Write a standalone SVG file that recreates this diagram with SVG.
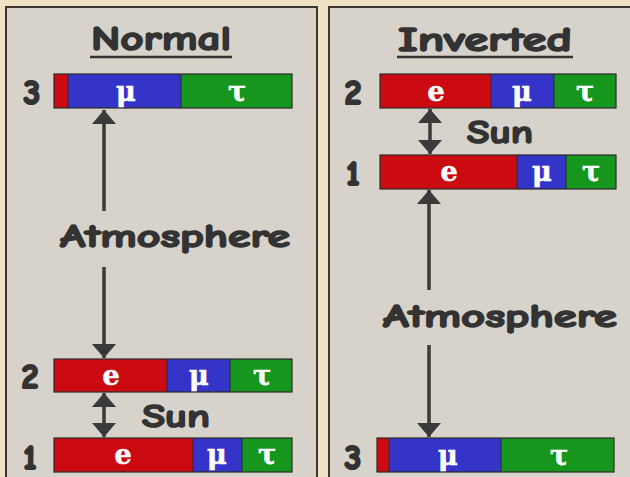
<svg xmlns="http://www.w3.org/2000/svg" width="630" height="477" viewBox="0 0 630 477">
  <defs>
    <style>
      .panel { fill: #d7d3cb; stroke: #3a3630; stroke-width: 2; }
      .t { font-family: "Comic Sans MS", "Comic Neue", "DejaVu Sans", sans-serif; font-weight: bold; fill: #333333; stroke: #333333; stroke-width: 1.6; stroke-linejoin: round; }
      .title { font-size: 34px; text-anchor: middle; }
      .lbl { font-size: 32px; text-anchor: middle; }
      .num { font-size: 34px; text-anchor: middle; stroke-width: 2.2; }
      .bt { font-family: "DejaVu Serif", "Liberation Serif", serif; font-weight: bold; font-size: 27px; fill: #ffffff; stroke: #ffffff; stroke-width: 0.6; text-anchor: middle; }
      .r { fill: #cc0a12; }
      .b { fill: #3434c8; }
      .g { fill: #16961c; }
      .frame { fill: none; stroke: #2a2a2a; stroke-width: 1.2; }
      .sep { stroke: #2a2a2a; stroke-width: 1; }
      .ln { stroke: #3a3a3a; stroke-width: 3.5; fill: none; }
      .ul { stroke: #333333; stroke-width: 2.6; }
    </style>
    <marker id="ah" viewBox="0 0 14 24" refX="14" refY="12" markerWidth="14" markerHeight="24" markerUnits="userSpaceOnUse" orient="auto">
      <path d="M0,0 L14,12 L0,24 Z" fill="#3a3a3a"/>
    </marker>
  </defs>
  <rect x="0" y="0" width="630" height="477" fill="#efe2c4"/>

  <g id="panel-normal">
    <rect class="panel" x="6" y="7" width="311" height="480"/>
    <text class="t title" x="161" y="50" textLength="140" lengthAdjust="spacingAndGlyphs">Normal</text>
    <line class="ul" x1="90" y1="57" x2="232" y2="57"/>
  </g>
  <g id="panel-inverted">
    <rect class="panel" x="329" y="7" width="320" height="480"/>
    <text class="t title" x="485" y="51" textLength="174" lengthAdjust="spacingAndGlyphs">Inverted</text>
    <line class="ul" x1="397" y1="57" x2="573" y2="57"/>
  </g>

  <g id="normal-3">
    <text class="t num" x="32" y="104">3</text>
    <rect class="r" x="54" y="74" width="14" height="34"/>
    <rect class="b" x="68" y="74" width="113" height="34"/>
    <rect class="g" x="181" y="74" width="111" height="34"/>
    <line class="sep" x1="68" y1="74" x2="68" y2="108"/>
    <line class="sep" x1="181" y1="74" x2="181" y2="108"/>
    <rect class="frame" x="54" y="74" width="238" height="34"/>
    <text class="bt" x="126" y="101">μ</text>
    <text class="bt" x="237" y="101">τ</text>
  </g>

  <g id="normal-2">
    <text class="t num" x="30" y="388">2</text>
    <rect class="r" x="54" y="359" width="113" height="33"/>
    <rect class="b" x="167" y="359" width="63" height="33"/>
    <rect class="g" x="230" y="359" width="62" height="33"/>
    <line class="sep" x1="167" y1="359" x2="167" y2="392"/>
    <line class="sep" x1="230" y1="359" x2="230" y2="392"/>
    <rect class="frame" x="54" y="359" width="238" height="33"/>
    <text class="bt" x="111" y="385">e</text>
    <text class="bt" x="199" y="385">μ</text>
    <text class="bt" x="262" y="385">τ</text>
  </g>

  <g id="normal-1">
    <text class="t num" x="30" y="469">1</text>
    <rect class="r" x="54" y="438" width="139" height="34"/>
    <rect class="b" x="193" y="438" width="49" height="34"/>
    <rect class="g" x="242" y="438" width="50" height="34"/>
    <line class="sep" x1="193" y1="438" x2="193" y2="472"/>
    <line class="sep" x1="242" y1="438" x2="242" y2="472"/>
    <rect class="frame" x="54" y="438" width="238" height="34"/>
    <text class="bt" x="123" y="464">e</text>
    <text class="bt" x="217" y="464">μ</text>
    <text class="bt" x="267" y="464">τ</text>
  </g>

  <g id="inverted-2">
    <text class="t num" x="353" y="104">2</text>
    <rect class="r" x="380" y="74" width="111" height="34"/>
    <rect class="b" x="491" y="74" width="63" height="34"/>
    <rect class="g" x="554" y="74" width="62" height="34"/>
    <line class="sep" x1="491" y1="74" x2="491" y2="108"/>
    <line class="sep" x1="554" y1="74" x2="554" y2="108"/>
    <rect class="frame" x="380" y="74" width="236" height="34"/>
    <text class="bt" x="436" y="101">e</text>
    <text class="bt" x="522" y="101">μ</text>
    <text class="bt" x="585" y="101">τ</text>
  </g>

  <g id="inverted-1">
    <text class="t num" x="353" y="185">1</text>
    <rect class="r" x="380" y="155" width="137" height="34"/>
    <rect class="b" x="517" y="155" width="49" height="34"/>
    <rect class="g" x="566" y="155" width="50" height="34"/>
    <line class="sep" x1="517" y1="155" x2="517" y2="189"/>
    <line class="sep" x1="566" y1="155" x2="566" y2="189"/>
    <rect class="frame" x="380" y="155" width="236" height="34"/>
    <text class="bt" x="449" y="181">e</text>
    <text class="bt" x="542" y="181">μ</text>
    <text class="bt" x="591" y="181">τ</text>
  </g>

  <g id="inverted-3">
    <text class="t num" x="353" y="469">3</text>
    <rect class="r" x="377" y="438" width="12" height="34"/>
    <rect class="b" x="389" y="438" width="112" height="34"/>
    <rect class="g" x="501" y="438" width="113" height="34"/>
    <line class="sep" x1="389" y1="438" x2="389" y2="472"/>
    <line class="sep" x1="501" y1="438" x2="501" y2="472"/>
    <rect class="frame" x="377" y="438" width="237" height="34"/>
    <text class="bt" x="448" y="465">μ</text>
    <text class="bt" x="559" y="465">τ</text>
  </g>

  <g id="connectors">
    <line class="ln" x1="104" y1="211" x2="104" y2="110" marker-end="url(#ah)"/>
    <line class="ln" x1="104" y1="267" x2="104" y2="358" marker-end="url(#ah)"/>
    <text class="t lbl" x="175" y="247" textLength="230" lengthAdjust="spacingAndGlyphs">Atmosphere</text>

    <line class="ln" x1="104" y1="415" x2="104" y2="393" marker-end="url(#ah)"/>
    <line class="ln" x1="104" y1="415" x2="104" y2="437" marker-end="url(#ah)"/>
    <text class="t lbl" x="176" y="427" textLength="68" lengthAdjust="spacingAndGlyphs">Sun</text>

    <line class="ln" x1="430" y1="131" x2="430" y2="109" marker-end="url(#ah)"/>
    <line class="ln" x1="430" y1="131" x2="430" y2="154" marker-end="url(#ah)"/>
    <text class="t lbl" x="500" y="143" textLength="66" lengthAdjust="spacingAndGlyphs">Sun</text>

    <line class="ln" x1="429" y1="290" x2="429" y2="190" marker-end="url(#ah)"/>
    <line class="ln" x1="429" y1="345" x2="429" y2="437" marker-end="url(#ah)"/>
    <text class="t lbl" x="500" y="327" textLength="234" lengthAdjust="spacingAndGlyphs">Atmosphere</text>
  </g>
</svg>
